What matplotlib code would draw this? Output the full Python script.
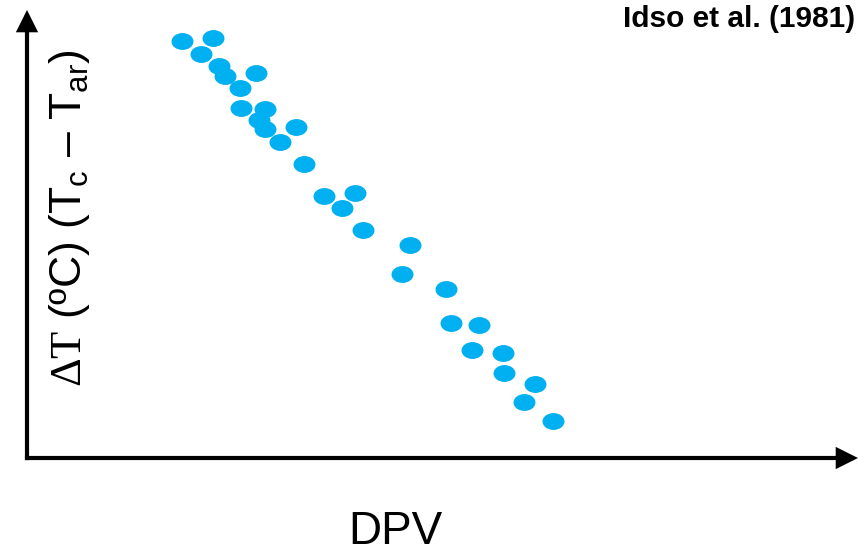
import numpy as np
import matplotlib.pyplot as plt
from matplotlib.path import Path
from matplotlib.transforms import Affine2D

plt.rcParams['font.family'] = ['Liberation Sans', 'DejaVu Sans']
plt.rcParams['mathtext.fontset'] = 'custom'
plt.rcParams['mathtext.rm'] = 'Liberation Serif'
plt.rcParams['mathtext.sf'] = 'Liberation Sans'

# Données (unités arbitraires)
dpv = [1.87, 2.24, 2.09, 2.31, 2.38, 2.76, 2.56, 2.58, 2.86, 2.79,
       2.86, 3.24, 3.04, 3.33, 3.57, 3.95, 3.79, 4.04, 4.61, 4.51,
       5.04, 5.10, 5.44, 5.36, 5.73, 5.74, 6.11, 5.98, 6.33]
dT = [9.31, 9.38, 9.02, 8.75, 8.53, 8.59, 8.26, 7.81, 7.79, 7.54,
      7.34, 7.39, 7.05, 6.56, 5.85, 5.92, 5.58, 5.09, 4.75, 4.11,
      3.77, 3.01, 2.97, 2.41, 2.34, 1.90, 1.65, 1.25, 0.83]

W, H = 864, 553
fig = plt.figure(figsize=(W/100, H/100), dpi=100)
# axes : origine à (27, 458) px, flèches jusqu'à (858, 10)
ax = fig.add_axes([27/W, (H-458)/H, 831/W, 448/H])
ax.set_xlim(0, 10)
ax.set_ylim(0, 10)
ax.axis('off')

# marqueur elliptique
ellipse = Path.unit_circle().transformed(Affine2D().scale(1.3, 1.0))
ax.plot(dpv, dT, ls='none', marker=ellipse, ms=15.8,
        color='#00B0F0', mec='none')

# axes fléchés
arrow = dict(arrowstyle='-|>', lw=3, color='black', capstyle='butt',
             joinstyle='miter', mutation_scale=28, shrinkA=0, shrinkB=0)
ax.annotate('', xy=(1, 0), xytext=(-0.0025, 0), xycoords='axes fraction',
            arrowprops=arrow)
ax.annotate('', xy=(0, 1), xytext=(0, -0.0047), xycoords='axes fraction',
            arrowprops=arrow)

fig.text(395/W, 1 - 532/H, 'DPV', fontsize=33, ha='center', va='center')
fig.text(70/W, 1 - 218/H,
         r'$\Delta\mathrm{T}$ (ºC) (T$_\mathsf{c}$ – T$_\mathsf{ar}$)',
         fontsize=32, rotation=90, ha='center', va='center')
fig.text(855/W, 1 - 19/H, 'Idso et al. (1981)', fontsize=21.5,
         fontweight='bold', ha='right', va='center')

fig.savefig('out.png', dpi=100)
